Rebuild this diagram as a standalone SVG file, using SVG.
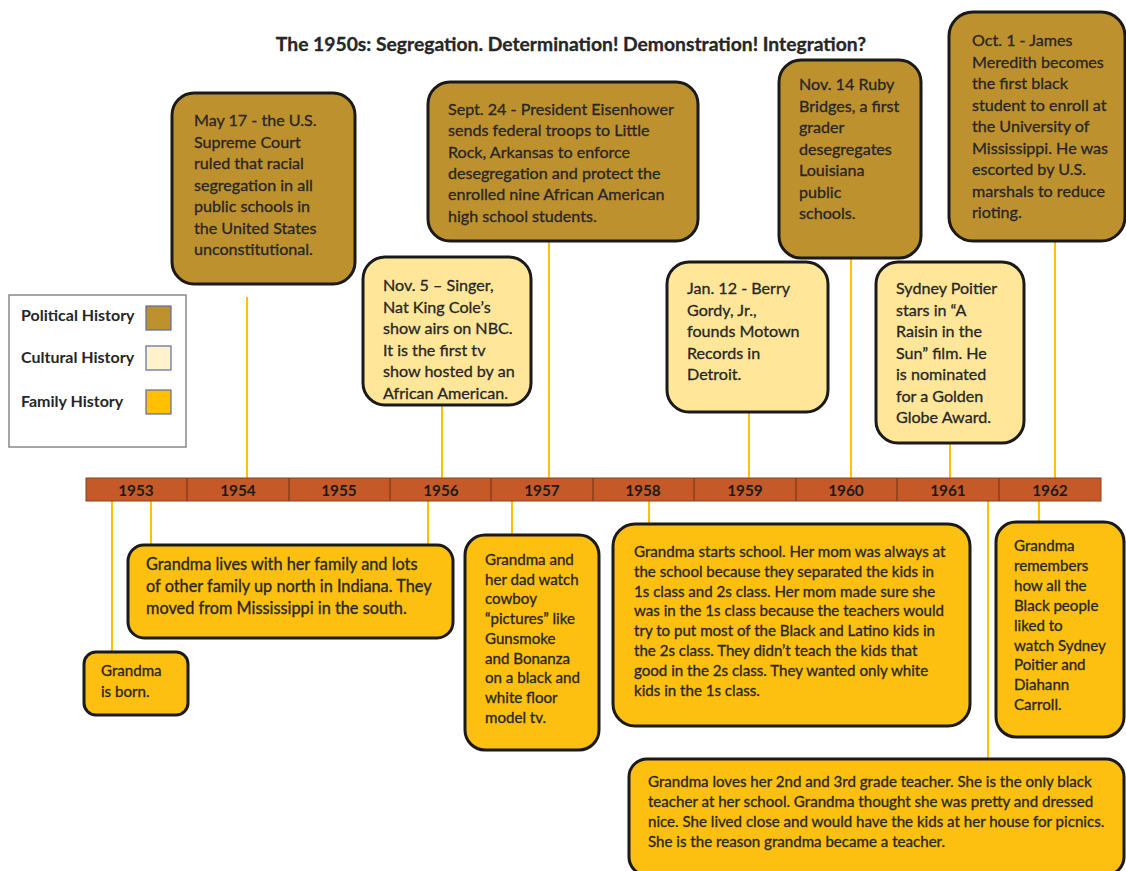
<svg xmlns="http://www.w3.org/2000/svg" width="1126" height="871" viewBox="0 0 1126 871">
<style>
.t{font-family:Lato,"Open Sans","Liberation Sans",sans-serif;fill:#262626;stroke:#262626;stroke-width:0.3}
.big{font-size:16.1px}
.sm{font-size:15.1px}
.box{stroke:#1a1a1a;stroke-width:3}
.pol{fill:#BE912F}
.cul{fill:#FFE699}
.fam{fill:#FDBF10}
.con{stroke:#FFC000;stroke-width:2;fill:none}
.yr{font-family:Lato,"Liberation Sans",sans-serif;font-size:15.3px;font-weight:bold;fill:#1a1a1a;text-anchor:middle}
.div{stroke:#7a3a18;stroke-width:1.2}
.lg{font-size:16px;font-weight:bold;stroke-width:0}
</style>
<rect width="1126" height="871" fill="#fff"/>
<text class="t" x="571" y="51" text-anchor="middle" font-size="19.3" font-weight="bold" fill="#111" stroke-width="0">The 1950s: Segregation. Determination! Demonstration! Integration?</text>

<g id="legend">
<rect x="9" y="295" width="177" height="152" fill="#fff" stroke="#888" stroke-width="1.5"/>
<text class="t lg" x="21" y="321">Political History</text>
<rect x="146" y="306" width="25" height="24" fill="#BE912F" stroke="#5a6aa8" stroke-width="1.2"/>
<text class="t lg" x="21" y="363">Cultural History</text>
<rect x="146" y="346" width="25" height="24" fill="#FFF2CC" stroke="#5a6aa8" stroke-width="1.2"/>
<text class="t lg" x="21" y="407">Family History</text>
<rect x="146" y="390" width="25" height="24" fill="#FFC000" stroke="#5a6aa8" stroke-width="1.2"/>
</g>

<g id="connectors">
<line class="con" x1="247" y1="297" x2="247" y2="478"/>
<line class="con" x1="549" y1="241" x2="549" y2="478"/>
<line class="con" x1="851" y1="258" x2="851" y2="478"/>
<line class="con" x1="1055" y1="241" x2="1055" y2="478"/>
<line class="con" x1="442" y1="405" x2="442" y2="478"/>
<line class="con" x1="749" y1="412" x2="749" y2="478"/>
<line class="con" x1="950" y1="443" x2="950" y2="478"/>
<line class="con" x1="112" y1="501" x2="112" y2="652"/>
<line class="con" x1="151" y1="501" x2="151" y2="545"/>
<line class="con" x1="428" y1="501" x2="428" y2="545"/>
<line class="con" x1="512" y1="501" x2="512" y2="535"/>
<line class="con" x1="649" y1="501" x2="649" y2="524"/>
<line class="con" x1="988" y1="501" x2="988" y2="759"/>
<line class="con" x1="1039" y1="501" x2="1039" y2="522"/>
</g>

<g id="timeline">
<rect x="86" y="478" width="1015" height="23" fill="#C55A28" stroke="#8a4020" stroke-width="1"/>
<line class="div" x1="187" y1="478" x2="187" y2="501"/>
<line class="div" x1="289" y1="478" x2="289" y2="501"/>
<line class="div" x1="390" y1="478" x2="390" y2="501"/>
<line class="div" x1="491" y1="478" x2="491" y2="501"/>
<line class="div" x1="593" y1="478" x2="593" y2="501"/>
<line class="div" x1="694" y1="478" x2="694" y2="501"/>
<line class="div" x1="796" y1="478" x2="796" y2="501"/>
<line class="div" x1="897" y1="478" x2="897" y2="501"/>
<line class="div" x1="999" y1="478" x2="999" y2="501"/>
<text class="yr" x="136" y="495.5">1953</text>
<text class="yr" x="238" y="495.5">1954</text>
<text class="yr" x="339" y="495.5">1955</text>
<text class="yr" x="441" y="495.5">1956</text>
<text class="yr" x="542" y="495.5">1957</text>
<text class="yr" x="643" y="495.5">1958</text>
<text class="yr" x="745" y="495.5">1959</text>
<text class="yr" x="846" y="495.5">1960</text>
<text class="yr" x="948" y="495.5">1961</text>
<text class="yr" x="1050" y="495.5">1962</text>
</g>

<g id="n1954">
<rect class="box pol" x="172" y="93" width="183" height="191" rx="22"/>
<text class="t big" x="194" y="126"><tspan x="194">May 17 - the U.S.</tspan><tspan x="194" dy="21.5">Supreme Court</tspan><tspan x="194" dy="21.5">ruled that racial</tspan><tspan x="194" dy="21.5">segregation in all</tspan><tspan x="194" dy="21.5">public schools in</tspan><tspan x="194" dy="21.5">the United States</tspan><tspan x="194" dy="21.5">unconstitutional.</tspan></text>
</g>

<g id="n1957pol">
<rect class="box pol" x="428" y="82" width="270" height="159" rx="22"/>
<text class="t big" x="448" y="115"><tspan x="448">Sept. 24 - President Eisenhower</tspan><tspan x="448" dy="21.3">sends federal troops to Little</tspan><tspan x="448" dy="21.3">Rock, Arkansas to enforce</tspan><tspan x="448" dy="21.3">desegregation and protect the</tspan><tspan x="448" dy="21.3">enrolled nine African American</tspan><tspan x="448" dy="21.3">high school students.</tspan></text>
</g>

<g id="n1960pol">
<rect class="box pol" x="779" y="60" width="142" height="198" rx="22"/>
<text class="t big" x="799" y="90"><tspan x="799">Nov. 14 Ruby</tspan><tspan x="799" dy="21.5">Bridges, a first</tspan><tspan x="799" dy="21.5">grader</tspan><tspan x="799" dy="21.5">desegregates</tspan><tspan x="799" dy="21.5">Louisiana</tspan><tspan x="799" dy="21.5">public</tspan><tspan x="799" dy="21.5">schools.</tspan></text>
</g>

<g id="n1962pol">
<rect class="box pol" x="949" y="12" width="176" height="229" rx="24"/>
<text class="t big" x="972" y="46"><tspan x="972">Oct. 1 - James</tspan><tspan x="972" dy="21.5">Meredith becomes</tspan><tspan x="972" dy="21.5">the first black</tspan><tspan x="972" dy="21.5">student to enroll at</tspan><tspan x="972" dy="21.5">the University of</tspan><tspan x="972" dy="21.5">Mississippi. He was</tspan><tspan x="972" dy="21.5">escorted by U.S.</tspan><tspan x="972" dy="21.5">marshals to reduce</tspan><tspan x="972" dy="21.5">rioting.</tspan></text>
</g>

<g id="n1956cul">
<rect class="box cul" x="363" y="257" width="168" height="148" rx="22"/>
<text class="t big" x="383" y="291"><tspan x="383">Nov. 5 – Singer,</tspan><tspan x="383" dy="21.5">Nat King Cole’s</tspan><tspan x="383" dy="21.5">show airs on NBC.</tspan><tspan x="383" dy="21.5">It is the first tv</tspan><tspan x="383" dy="21.5">show hosted by an</tspan><tspan x="383" dy="21.5">African American.</tspan></text>
</g>

<g id="n1959cul">
<rect class="box cul" x="667" y="262" width="161" height="150" rx="22"/>
<text class="t big" x="687" y="294"><tspan x="687">Jan. 12 - Berry</tspan><tspan x="687" dy="21.5">Gordy, Jr.,</tspan><tspan x="687" dy="21.5">founds Motown</tspan><tspan x="687" dy="21.5">Records in</tspan><tspan x="687" dy="21.5">Detroit.</tspan></text>
</g>

<g id="n1961cul">
<rect class="box cul" x="876" y="262" width="148" height="181" rx="22"/>
<text class="t big" x="896" y="294"><tspan x="896">Sydney Poitier</tspan><tspan x="896" dy="21.5">stars in “A</tspan><tspan x="896" dy="21.5">Raisin in the</tspan><tspan x="896" dy="21.5">Sun” film. He</tspan><tspan x="896" dy="21.5">is nominated</tspan><tspan x="896" dy="21.5">for a Golden</tspan><tspan x="896" dy="21.5">Globe Award.</tspan></text>
</g>

<g id="nBorn">
<rect class="box fam" x="84" y="652" width="104" height="63" rx="12"/>
<text class="t sm" x="101" y="676"><tspan x="101">Grandma</tspan><tspan x="101" dy="21">is born.</tspan></text>
</g>

<g id="nLives">
<rect class="box fam" x="128" y="545" width="325" height="93" rx="16"/>
<text class="t" font-size="16.3" x="146" y="570"><tspan x="146">Grandma lives with her family and lots</tspan><tspan x="146" dy="22">of other family up north in Indiana. They</tspan><tspan x="146" dy="22">moved from Mississippi in the south.</tspan></text>
</g>

<g id="nCowboy">
<rect class="box fam" x="465" y="535" width="134" height="215" rx="20"/>
<text class="t sm" x="485" y="565"><tspan x="485">Grandma and</tspan><tspan x="485" dy="19.7">her dad watch</tspan><tspan x="485" dy="19.7">cowboy</tspan><tspan x="485" dy="19.7">“pictures” like</tspan><tspan x="485" dy="19.7">Gunsmoke</tspan><tspan x="485" dy="19.7">and Bonanza</tspan><tspan x="485" dy="19.7">on a black and</tspan><tspan x="485" dy="19.7">white floor</tspan><tspan x="485" dy="19.7">model tv.</tspan></text>
</g>

<g id="nSchool">
<rect class="box fam" x="613" y="524" width="357" height="202" rx="22"/>
<text class="t sm" x="634" y="557"><tspan x="634">Grandma starts school. Her mom was always at</tspan><tspan x="634" dy="19.8">the school because they separated the kids in</tspan><tspan x="634" dy="19.8">1s class and 2s class. Her mom made sure she</tspan><tspan x="634" dy="19.8">was in the 1s class because the teachers would</tspan><tspan x="634" dy="19.8">try to put most of the Black and Latino kids in</tspan><tspan x="634" dy="19.8">the 2s class. They didn’t teach the kids that</tspan><tspan x="634" dy="19.8">good in the 2s class. They wanted only white</tspan><tspan x="634" dy="19.8">kids in the 1s class.</tspan></text>
</g>

<g id="nTeacher">
<rect class="box fam" x="629" y="759" width="495" height="116" rx="18"/>
<text class="t sm" x="648" y="787"><tspan x="648">Grandma loves her 2nd and 3rd grade teacher. She is the only black</tspan><tspan x="648" dy="20">teacher at her school. Grandma thought she was pretty and dressed</tspan><tspan x="648" dy="20">nice. She lived close and would have the kids at her house for picnics.</tspan><tspan x="648" dy="20">She is the reason grandma became a teacher.</tspan></text>
</g>

<g id="nRemembers">
<rect class="box fam" x="996" y="522" width="128" height="215" rx="20"/>
<text class="t sm" x="1014" y="551"><tspan x="1014">Grandma</tspan><tspan x="1014" dy="19.9">remembers</tspan><tspan x="1014" dy="19.9">how all the</tspan><tspan x="1014" dy="19.9">Black people</tspan><tspan x="1014" dy="19.9">liked to</tspan><tspan x="1014" dy="19.9">watch Sydney</tspan><tspan x="1014" dy="19.9">Poitier and</tspan><tspan x="1014" dy="19.9">Diahann</tspan><tspan x="1014" dy="19.9">Carroll.</tspan></text>
</g>
</svg>
